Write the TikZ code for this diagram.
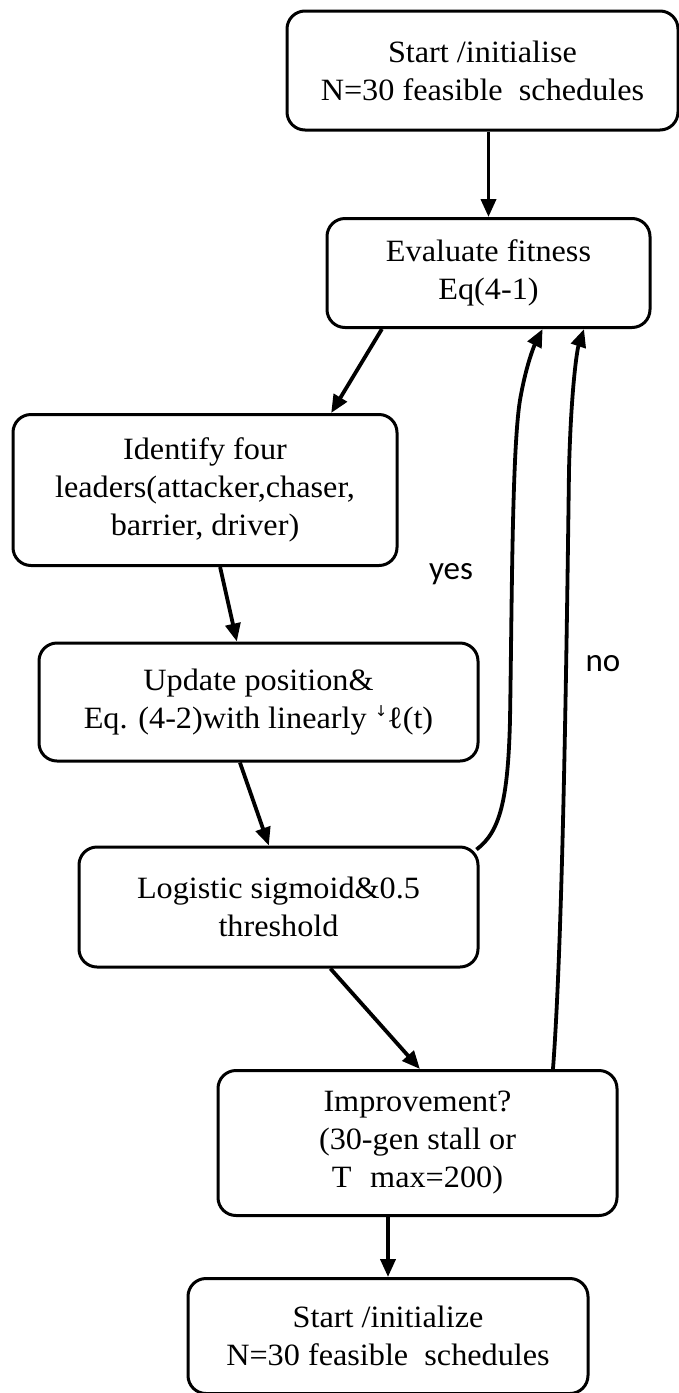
\documentclass[tikz,border=0pt]{standalone}
\usepackage{fontspec}
\setmainfont{Liberation Serif}[FakeStretch=1.04]
\newfontfamily\lblfont{Carlito}
\newfontfamily\djvfont{DejaVu Sans}
\usetikzlibrary{arrows.meta,calc}
\tikzset{
  boxnode/.style={draw=black, line width=3pt, rounded corners=18pt, align=center,
    inner sep=0pt, font=\fontsize{31}{38}\selectfont},
  flow/.style={line width=3.8pt, -{Triangle[length=18pt,width=15pt]}},
  lbl/.style={font=\lblfont\fontsize{33}{33}\selectfont, inner sep=0pt}
}
\begin{document}
\begin{tikzpicture}[x=1pt,y=-1pt]
\useasboundingbox (0,0) rectangle (679,1393);
\node[boxnode, minimum width=391pt, minimum height=119pt] (b1) at (482.5,70.5)
  {Start /initialise\\N=30 feasible\ \ schedules};
\node[boxnode, minimum width=323pt, minimum height=109pt] (b2) at (488.5,273)
  {Evaluate fitness\\Eq(4-1)};
\node[boxnode, minimum width=384pt, minimum height=151pt] (b3) at (205,490)
  {Identify four\\leaders(attacker,chaser,\\barrier, driver)};
\node[boxnode, minimum width=439pt, minimum height=118pt] (b4) at (258.5,702)
  {Update position\&\\Eq. (4-2)with linearly \raisebox{0.38em}{\djvfont\fontsize{15}{15}\selectfont ↓}ℓ(t)};
\node[boxnode, minimum width=399pt, minimum height=120pt] (b5) at (278.5,907)
  {Logistic sigmoid\&0.5\\threshold};
\node[boxnode, minimum width=399pt, minimum height=145pt] (b6) at (417.5,1143)
  {Improvement?\\(30-gen stall or\\T\hspace{0.6em}max=200)};
\node[boxnode, minimum width=400pt, minimum height=115pt] (b7) at (388,1336)
  {Start /initialize\\N=30 feasible\ \ schedules};

\node[lbl] (yes) at (451,574) {yes};
\node[lbl] (no) at (603,664) {no};

\draw[flow] (b1.south -| b2.north) -- (b2.north);
\draw[flow] ($(b2.south west)!0.173!(b2.south east)$) -- ($(b3.north west)!0.826!(b3.north east)$);
\draw[flow] ($(b3.south west)!0.539!(b3.south east)$) -- ($(b4.north west)!0.451!(b4.north east)$);
\draw[flow] ($(b4.south west)!0.458!(b4.south east)$) -- ($(b5.north west)!0.476!(b5.north east)$);
\draw[flow] ($(b5.south west)!0.629!(b5.south east)$) -- ($(b6.north west)!0.506!(b6.north east)$);
\draw[flow] (b6.south -| b7.north) -- (b7.north);

\coordinate (ys) at ($(b5.north east)+(-3,4)$);
\coordinate (ye) at ($(b2.south west)!0.666!(b2.south east)$);
\draw[flow] (ys) .. controls (500,832) and (508,800) .. (510,720)
  .. controls (512,600) and (512,450) .. (520,400)
  .. controls (527,360) and (536,342) .. (ye);

\coordinate (ns) at ($(b6.north west)!0.837!(b6.north east)$);
\coordinate (ne) at ($(b2.south west)!0.793!(b2.south east)$);
\draw[flow] (ns) .. controls (562,950) and (566,700) .. (569,470)
  .. controls (571,390) and (577,350) .. (ne);
\end{tikzpicture}
\end{document}
